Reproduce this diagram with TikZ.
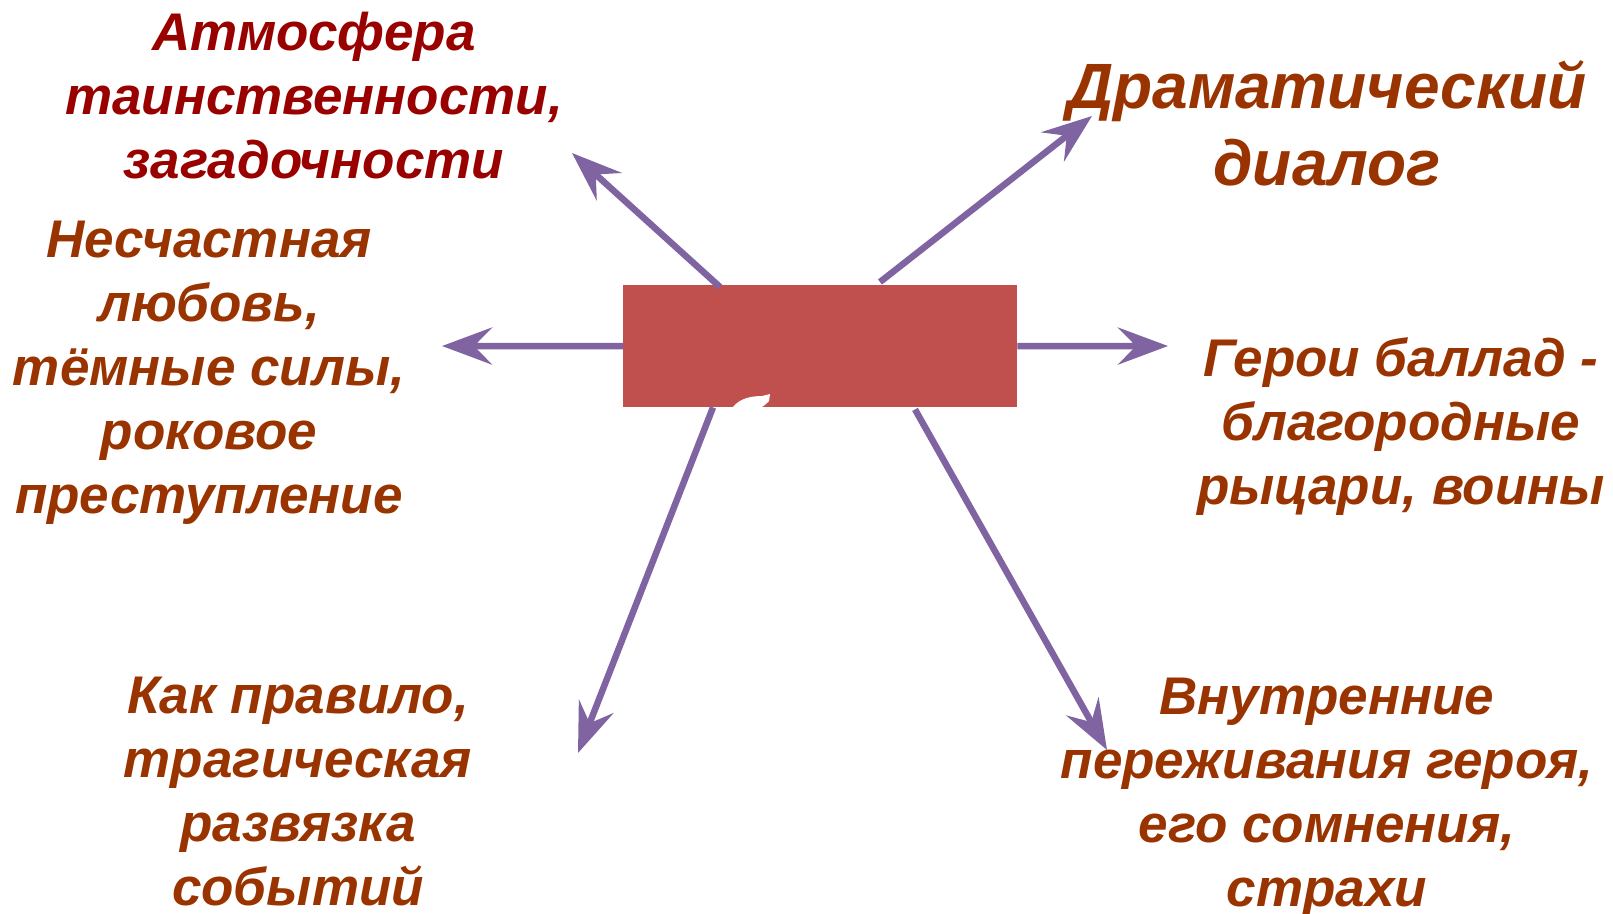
\documentclass[tikz,border=0pt]{standalone}
\usepackage{fontspec}
\setmainfont{Liberation Sans}
\usetikzlibrary{arrows.meta}
\definecolor{arrowc}{HTML}{8064A2}
\definecolor{boxc}{HTML}{C0504D}
\definecolor{redtxt}{HTML}{990000}
\definecolor{browntxt}{HTML}{993300}
\begin{document}
\begin{tikzpicture}[x=1pt,y=-1pt,
  lbl/.style={align=center,font=\fontsize{53}{64}\selectfont\bfseries\itshape,text=browntxt,inner sep=0pt},
  biglbl/.style={lbl,font=\fontsize{64}{77}\selectfont\bfseries\itshape},
  arr/.style={draw=arrowc,line width=6.5pt,-{Stealth[length=50pt,width=37pt,inset=18pt]}},
  centerbox/.style={fill=boxc,minimum width=394pt,minimum height=122pt,inner sep=0pt,anchor=north west}]
\useasboundingbox (0,0) rectangle (1613,913);
\fill[white] (0,0) rectangle (1613,913);
% central box
\node[centerbox] (box) at (623,285) {};
\fill[white] (733,407) .. controls (740,398) and (752,396) .. (762,396) -- (770,394) -- (769,401) .. controls (766,404) and (764,406) .. (762,407) -- cycle;
% arrow tips
\coordinate (t1) at (572,153);
\coordinate (t2) at (1092,116);
\coordinate (t3) at (442,346);
\coordinate (t4) at (1168,346);
\coordinate (t5) at (578,753);
\coordinate (t6) at (1107,750);
% arrows
\draw[arr] ([xshift=97pt,yshift=-2pt]box.north west) -- (t1);
\draw[arr] ([xshift=257pt,yshift=3pt]box.north west) -- (t2);
\draw[arr] (box.west) -- (t3);
\draw[arr] (box.east) -- (t4);
\draw[arr] ([xshift=90pt]box.south west) -- (t5);
\draw[arr] ([xshift=292pt,yshift=-2pt]box.south west) -- (t6);
% labels
\node[lbl,text=redtxt] (atm) at (314,96) {Атмосфера\\таинственности,\\загадочности};
\node[biglbl] (dram) at (1327,123) {Драматический\\диалог};
\node[lbl] (nes) at (209,373) {Несчастная\\любовь,\\тёмные силы,\\роковое\\преступление};
\node[lbl] (ger) at (1401,427) {Герои баллад -\\благородные\\рыцари, воины};
\node[lbl] (kak) at (298,792) {Как правило,\\трагическая\\развязка\\событий};
\node[lbl] (vn) at (1327,798) {Внутренние\\переживания героя,\\его сомнения,\\страхи};
\end{tikzpicture}
\end{document}
